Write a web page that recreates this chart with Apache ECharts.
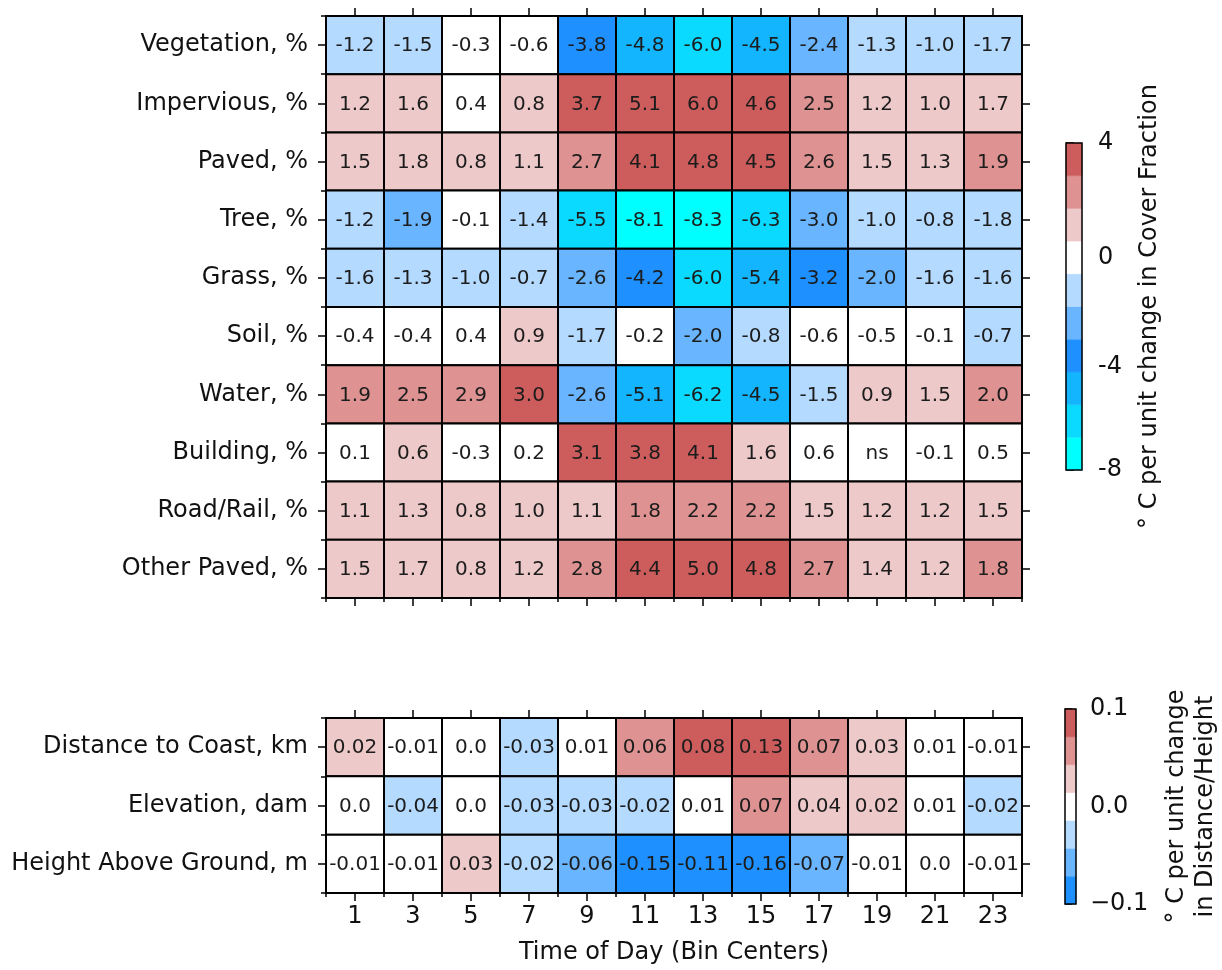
<!DOCTYPE html>
<html>
<head>
<meta charset="utf-8">
<script src="https://cdn.jsdelivr.net/npm/echarts@6/dist/echarts.min.js"></script>
<style>
  html, body { margin: 0; padding: 0; background: #fff; }
  #chart { width: 1222px; height: 970px; }
</style>
</head>
<body>
<div id="chart"></div>
<script>
// Time-of-day bins (bin centers, hours)
const hours = ['1', '3', '5', '7', '9', '11', '13', '15', '17', '19', '21', '23'];

// Land-cover predictors (rows of the upper panel)
const coverRows = ['Vegetation, %', 'Impervious, %', 'Paved, %', 'Tree, %', 'Grass, %',
  'Soil, %', 'Water, %', 'Building, %', 'Road/Rail, %', 'Other Paved, %'];
const vegetation = [-1.2, -1.5, -0.3, -0.6, -3.8, -4.8, -6.0, -4.5, -2.4, -1.3, -1.0, -1.7];
const impervious = [1.2, 1.6, 0.4, 0.8, 3.7, 5.1, 6.0, 4.6, 2.5, 1.2, 1.0, 1.7];
const paved = [1.5, 1.78, 0.8, 1.1, 2.7, 4.1, 4.8, 4.5, 2.6, 1.5, 1.3, 1.9];
const tree = [-1.2, -1.9, -0.1, -1.4, -5.5, -8.1, -8.3, -6.3, -3.0, -1.0, -0.8, -1.8];
const grass = [-1.6, -1.3, -1.0, -0.7, -2.6, -4.2, -6.0, -5.4, -3.2, -2.0, -1.6, -1.6];
const soil = [-0.4, -0.4, 0.4, 0.9, -1.7, -0.2, -2.0, -0.8, -0.6, -0.5, -0.1, -0.7];
const water = [1.9, 2.5, 2.9, 3.0, -2.6, -5.1, -6.2, -4.5, -1.5, 0.9, 1.5, 2.0];
const building = [0.1, 0.6, -0.3, 0.2, 3.1, 3.8, 4.1, 1.6, 0.58, null, -0.1, 0.5]; // null = not significant
const roadRail = [1.1, 1.3, 0.8, 1.0, 1.1, 1.8, 2.2, 2.2, 1.5, 1.2, 1.2, 1.5];
const otherPaved = [1.5, 1.7, 0.8, 1.2, 2.8, 4.4, 5.0, 4.8, 2.7, 1.4, 1.2, 1.8];

// Geographic predictors (rows of the lower panel)
const geoRows = ['Distance to Coast, km', 'Elevation, dam', 'Height Above Ground, m'];
const distanceToCoast = [0.02, -0.01, 0.0, -0.03, 0.01, 0.06, 0.08, 0.13, 0.07, 0.03, 0.01, -0.01];
const elevation = [0.0, -0.04, 0.0, -0.03, -0.03, -0.02, 0.01, 0.07, 0.04, 0.02, 0.01, -0.02];
const heightAboveGround = [-0.01, -0.01, 0.03, -0.02, -0.06, -0.15, -0.11, -0.16, -0.07, -0.01, 0.0, -0.01];

// Colour scale bins (low -> high) and colorbar ticks
const coverEdges = [-8, -6.6, -5.4, -4.2, -3.0, -1.8, -0.6, 0.6, 1.8, 3.0, 4];
const coverColors = ['#00ffff', '#0adaff', '#14b5ff', '#1e90ff', '#69b5ff', '#b4daff',
  '#ffffff', '#eec9c9', '#de9292', '#cd5c5c'];
const coverTicks = [-8, -4, 0, 4];
const geoColors = ['#1e90ff', '#69b5ff', '#b4daff', '#ffffff', '#eec9c9', '#de9292', '#cd5c5c'];
const geoMin = -0.1, geoMax = 0.1;
const geoTicks = [-0.1, 0.0, 0.1];

const coverValues = [vegetation, impervious, paved, tree, grass, soil, water, building, roadRail, otherPaved];
const geoValues = [distanceToCoast, elevation, heightAboveGround];
const geoEdges = geoColors.map((_, i) => geoMin + i * (geoMax - geoMin) / geoColors.length).concat([geoMax]);

const FONT = 'DejaVu Sans';
const TXT = '#111';

function binIndex(v, edges) {
  let i = 0;
  for (let k = 1; k < edges.length - 1; k++) if (v >= edges[k] - 1e-12) i = k;
  return i;
}
function binPos(v, edges) {
  for (let k = 0; k < edges.length - 1; k++) {
    if (v >= edges[k] && v <= edges[k + 1]) return k + (v - edges[k]) / (edges[k + 1] - edges[k]);
  }
  return v < edges[0] ? 0 : edges.length - 1;
}
const fmtCover = v => (v === null ? 'ns' : v.toFixed(1));
const fmtGeo = v => {
  if (v === null) return 'ns';
  let s = String(Math.round(v * 100) / 100);
  if (s.indexOf('.') < 0) s += '.0';
  return s;
};

function cellData(values) {
  const out = [];
  values.forEach((row, r) => row.forEach((_, c) => out.push([c, r])));
  return out;
}
function cellRenderer(values, edges, colors, fmt) {
  return function (params, api) {
    const c = api.value(0), r = api.value(1);
    const v = values[r][c];
    const p = api.coord([c, r]);
    const s = api.size([1, 1]);
    const fill = v === null ? '#ffffff' : colors[binIndex(v, edges)];
    return {
      type: 'group',
      children: [
        { type: 'rect', shape: { x: p[0] - s[0] / 2, y: p[1] - s[1] / 2, width: s[0], height: s[1] },
          style: { fill: fill, stroke: '#000', lineWidth: 2 } },
        { type: 'text', style: { text: fmt(v), x: p[0], y: p[1] + 1, align: 'center', verticalAlign: 'middle',
          fill: '#1c1c1c', font: '20px "' + FONT + '"' } }
      ]
    };
  };
}

const lineStyle = { color: '#000', width: 1.5 };

// Axes per panel: bottom/top (major ticks at centers, minor at cell edges), left/right likewise
function xAxesFor(grid, showLabels) {
  const base = { type: 'category', gridIndex: grid, data: hours, z: 5, splitLine: { show: false } };
  const axes = [
    Object.assign({}, base, {
      position: 'bottom',
      axisLine: { show: true, lineStyle },
      axisTick: { show: true, alignWithLabel: true, interval: 0, length: 8, lineStyle },
      axisLabel: { show: showLabels, interval: 0, margin: 12, fontSize: 24, fontFamily: FONT, color: TXT }
    }),
    Object.assign({}, base, {
      position: 'bottom',
      axisLine: { show: false },
      axisTick: { show: true, interval: 0, length: 4, lineStyle },
      axisLabel: { show: false }
    }),
    Object.assign({}, base, {
      position: 'top',
      axisLine: { show: true, lineStyle },
      axisTick: { show: true, alignWithLabel: true, interval: 0, length: 8, lineStyle },
      axisLabel: { show: false }
    })
  ];
  if (showLabels) {
    Object.assign(axes[0], {
      name: 'Time of Day (Bin Centers)', nameLocation: 'middle', nameGap: 48,
      nameTextStyle: { fontSize: 24, fontFamily: FONT, color: TXT }
    });
  }
  return axes;
}
function yAxesFor(grid, rows) {
  const base = { type: 'category', gridIndex: grid, data: rows, inverse: true, z: 5, splitLine: { show: false } };
  return [
    Object.assign({}, base, {
      position: 'left',
      axisLine: { show: true, lineStyle },
      axisTick: { show: true, alignWithLabel: true, interval: 0, length: 8, lineStyle },
      axisLabel: { show: true, interval: 0, margin: 18, fontSize: 24, fontFamily: FONT, color: TXT }
    }),
    Object.assign({}, base, {
      position: 'left',
      axisLine: { show: false },
      axisTick: { show: true, interval: 0, length: 5, lineStyle },
      axisLabel: { show: false }
    }),
    Object.assign({}, base, {
      position: 'right',
      axisLine: { show: true, lineStyle },
      axisTick: { show: true, alignWithLabel: true, interval: 0, length: 8, lineStyle },
      axisLabel: { show: false }
    })
  ];
}

const coverTickPos = coverTicks.map(t => binPos(t, coverEdges));
function coverTickLabel(pos) {
  let best = 0;
  coverTickPos.forEach((p, i) => { if (Math.abs(p - pos) < Math.abs(coverTickPos[best] - pos)) best = i; });
  return String(coverTicks[best]);
}

const option = {
  backgroundColor: '#fff',
  animation: false,
  textStyle: { fontFamily: FONT },
  grid: [
    { left: 326, top: 16, width: 696, height: 582 },
    { left: 326, top: 718, width: 696, height: 175 },
    { left: 1066, top: 143, width: 16, height: 327 },
    { left: 1065, top: 709, width: 11, height: 195 }
  ],
  xAxis: [].concat(
    xAxesFor(0, false),
    xAxesFor(1, true),
    [
      { type: 'value', gridIndex: 2, min: 0, max: 1, show: false },
      { type: 'value', gridIndex: 3, min: 0, max: 1, show: false }
    ]
  ),
  yAxis: [].concat(
    yAxesFor(0, coverRows),
    yAxesFor(1, geoRows),
    [
      {
        type: 'value', gridIndex: 2, position: 'right', min: 0, max: coverColors.length,
        splitLine: { show: false }, axisLine: { show: false },
        axisTick: { show: true, length: 8, lineStyle, customValues: coverTickPos },
        axisLabel: { show: true, margin: 16, fontSize: 24, fontFamily: FONT, color: TXT,
          customValues: coverTickPos, formatter: v => coverTickLabel(v) },
        name: '° C per unit change in Cover Fraction', nameLocation: 'middle', nameRotate: 90, nameGap: 56,
        nameTextStyle: { fontSize: 24, fontFamily: FONT, color: TXT }
      },
      {
        type: 'value', gridIndex: 3, position: 'right', min: geoMin, max: geoMax, interval: 0.1,
        splitLine: { show: false }, axisLine: { show: false },
        axisTick: { show: true, length: 7, lineStyle },
        axisLabel: { show: true, margin: 14, fontSize: 24, fontFamily: FONT, color: TXT,
          formatter: v => (v < -1e-9 ? '\u2212' : '') + Math.abs(v).toFixed(1) },
        name: '° C per unit change\nin Distance/Height', nameLocation: 'middle', nameRotate: 90, nameGap: 86,
        nameTextStyle: { fontSize: 24, fontFamily: FONT, color: TXT, lineHeight: 29, align: 'center' }
      }
    ]
  ),
  series: [
    {
      type: 'custom', name: 'cover', xAxisIndex: 0, yAxisIndex: 0, z: 2,
      data: cellData(coverValues),
      renderItem: cellRenderer(coverValues, coverEdges, coverColors, fmtCover)
    },
    {
      type: 'custom', name: 'geo', xAxisIndex: 3, yAxisIndex: 3, z: 2,
      data: cellData(geoValues),
      renderItem: cellRenderer(geoValues, geoEdges, geoColors, fmtGeo)
    },
    {
      // colorbar for the land-cover panel (uniform bin heights)
      type: 'custom', xAxisIndex: 6, yAxisIndex: 6, z: 2,
      data: coverColors.map((c, i) => [i]),
      renderItem: function (params, api) {
        const i = api.value(0);
        const a = api.coord([0, i]), b = api.coord([1, i + 1]);
        return { type: 'rect', shape: { x: a[0], y: b[1], width: b[0] - a[0], height: a[1] - b[1] },
          style: { fill: coverColors[i], stroke: coverColors[i], lineWidth: 0.5 } };
      }
    },
    {
      type: 'custom', xAxisIndex: 6, yAxisIndex: 6, z: 3,
      data: [[0]],
      renderItem: function (params, api) {
        const a = api.coord([0, 0]), b = api.coord([1, coverColors.length]);
        return { type: 'rect', shape: { x: a[0], y: b[1], width: b[0] - a[0], height: a[1] - b[1] },
          style: { fill: 'none', stroke: '#000', lineWidth: 1.5 } };
      }
    },
    {
      // colorbar for the geographic panel
      type: 'custom', xAxisIndex: 7, yAxisIndex: 7, z: 2,
      data: geoColors.map((c, i) => [i]),
      renderItem: function (params, api) {
        const i = api.value(0);
        const a = api.coord([0, geoEdges[i]]), b = api.coord([1, geoEdges[i + 1]]);
        return { type: 'rect', shape: { x: a[0], y: b[1], width: b[0] - a[0], height: a[1] - b[1] },
          style: { fill: geoColors[i], stroke: geoColors[i], lineWidth: 0.5 } };
      }
    },
    {
      type: 'custom', xAxisIndex: 7, yAxisIndex: 7, z: 3,
      data: [[0]],
      renderItem: function (params, api) {
        const a = api.coord([0, geoMin]), b = api.coord([1, geoMax]);
        return { type: 'rect', shape: { x: a[0], y: b[1], width: b[0] - a[0], height: a[1] - b[1] },
          style: { fill: 'none', stroke: '#000', lineWidth: 1.5 } };
      }
    }
  ]
};

const chart = echarts.init(document.getElementById('chart'), null, { renderer: 'canvas' });
chart.setOption(option);
</script>
</body>
</html>
